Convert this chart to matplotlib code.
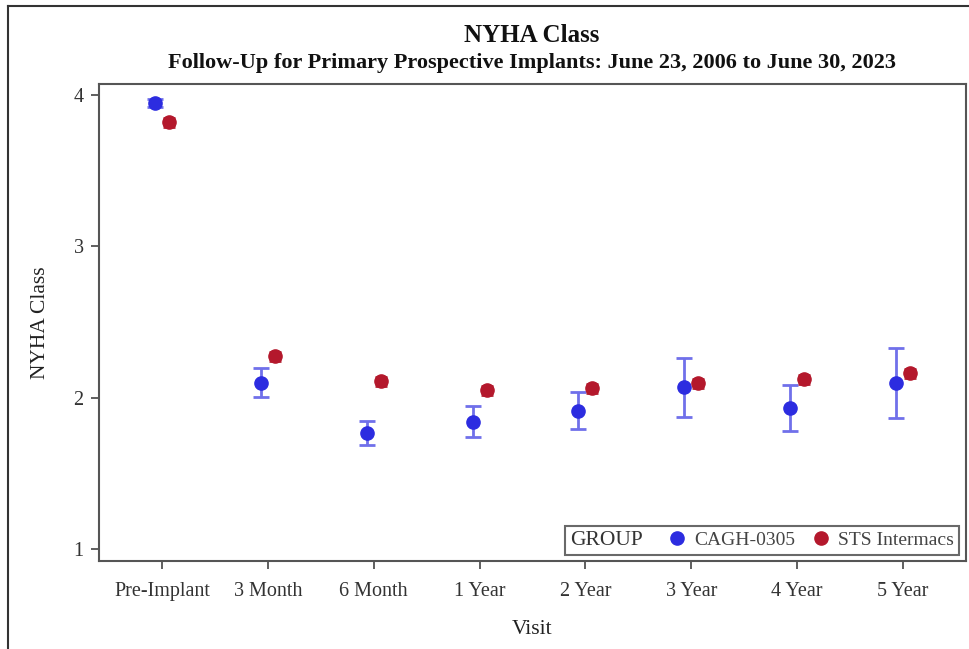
import matplotlib
matplotlib.use("Agg")
import matplotlib.pyplot as plt
from matplotlib.lines import Line2D
from matplotlib.offsetbox import HPacker
import numpy as np

visits = ["Pre-Implant", "3 Month", "6 Month", "1 Year", "2 Year", "3 Year", "4 Year", "5 Year"]
cagh_mean = [3.947, 2.10, 1.766, 1.839, 1.91, 2.07, 1.93, 2.097]
cagh_low = [3.92, 2.004, 1.687, 1.74, 1.79, 1.87, 1.78, 1.865]
cagh_high = [3.975, 2.196, 1.845, 1.944, 2.037, 2.262, 2.083, 2.328]
sts_mean = [3.82, 2.275, 2.11, 2.05, 2.063, 2.096, 2.123, 2.163]
sts_low = [3.79, 2.245, 2.08, 2.02, 2.033, 2.066, 2.093, 2.133]
sts_high = [3.85, 2.305, 2.14, 2.08, 2.093, 2.126, 2.153, 2.193]
yticks = [1, 2, 3, 4]

BLUE = "#2c2ce0"
BLUE_ERR = "#7070ea"
RED = "#b4182c"
RED_ERR = "#b42838"
SERIF = ["Liberation Serif", "DejaVu Serif"]

plt.rcParams["font.family"] = SERIF

fig = plt.figure(figsize=(9.69, 6.49), dpi=100)
W, H = 969, 649
ax = fig.add_axes([99 / W, 1 - 561 / H, (966 - 99) / W, (561 - 84) / H])

x = np.arange(len(visits))
off = 0.066

c = np.array(cagh_mean)
ax.errorbar(x - off, c, yerr=[c - np.array(cagh_low), np.array(cagh_high) - c],
            fmt="o", color=BLUE, mec=BLUE, ecolor=BLUE_ERR, elinewidth=2, capsize=6, capthick=2,
            markersize=9.5, zorder=3)
s = np.array(sts_mean)
ax.errorbar(x + off, s, yerr=[s - np.array(sts_low), np.array(sts_high) - s],
            fmt="o", color=RED, mec=RED, ecolor=RED_ERR, elinewidth=2, capsize=4, capthick=2,
            markersize=9.5, zorder=3)

ax.set_xlim(-0.595, len(visits) - 1 + 0.595)
ax.set_ylim(0.921, 4.073)
ax.set_xticks(x)
ax.set_xticklabels(visits)
ax.set_yticks(yticks)
ax.set_yticklabels([str(v) for v in yticks])
ax.tick_params(axis="both", colors="#444444", labelcolor="#333333", labelsize=14.5,
               length=6, width=1.2, direction="out")
ax.tick_params(axis="x", pad=9)
ax.tick_params(axis="y", pad=5)
for sp in ax.spines.values():
    sp.set_color("#555555")
    sp.set_linewidth(1.5)

ax.set_xlabel("Visit", fontsize=15.5, color="#222222", labelpad=14)
ax.set_ylabel("NYHA Class", fontsize=15.5, color="#222222", labelpad=17)

fig.text(532 / W, 1 - 36 / H, "NYHA Class", ha="center", va="center",
         fontsize=18, fontweight="bold", color="#111111")
fig.text(532 / W, 1 - 63 / H,
         "Follow-Up for Primary Prospective Implants: June 23, 2006 to June 30, 2023",
         ha="center", va="center", fontsize=16, fontweight="bold", color="#111111")

handles = [Line2D([], [], linestyle="none", marker="o", color=BLUE, markersize=9.5),
           Line2D([], [], linestyle="none", marker="o", color=RED, markersize=9.5)]
leg = ax.legend(handles, ["CAGH-0305", "STS Intermacs"], title="GROUP", ncol=2,
                loc="lower right", bbox_to_anchor=(0.992, 0.013), frameon=True, fancybox=False,
                edgecolor="#444444", fontsize=14, title_fontsize=15.5,
                handlelength=0.8, handletextpad=0.5, columnspacing=0.9,
                borderpad=0.25, borderaxespad=0.0)
leg.get_frame().set_linewidth(1.5)
for t in leg.get_texts():
    t.set_color("#444444")
leg.get_title().set_color("#333333")
try:
    newbox = HPacker(pad=leg._legend_box.pad, sep=19, align="center",
                     children=[leg._legend_title_box, leg._legend_handle_box])
    newbox.set_figure(fig)
    newbox.axes = ax
    leg._legend_box = newbox
    newbox.set_offset(leg._findoffset)
except Exception:
    pass

# outer frame (left and top edges visible)
fig.add_artist(Line2D([8 / W, 8 / W], [0, 1 - 6 / H], transform=fig.transFigure,
                      color="#333333", linewidth=1.5))
fig.add_artist(Line2D([8 / W, 1], [1 - 6 / H, 1 - 6 / H], transform=fig.transFigure,
                      color="#333333", linewidth=1.5))

fig.savefig("out.png", dpi=100)
